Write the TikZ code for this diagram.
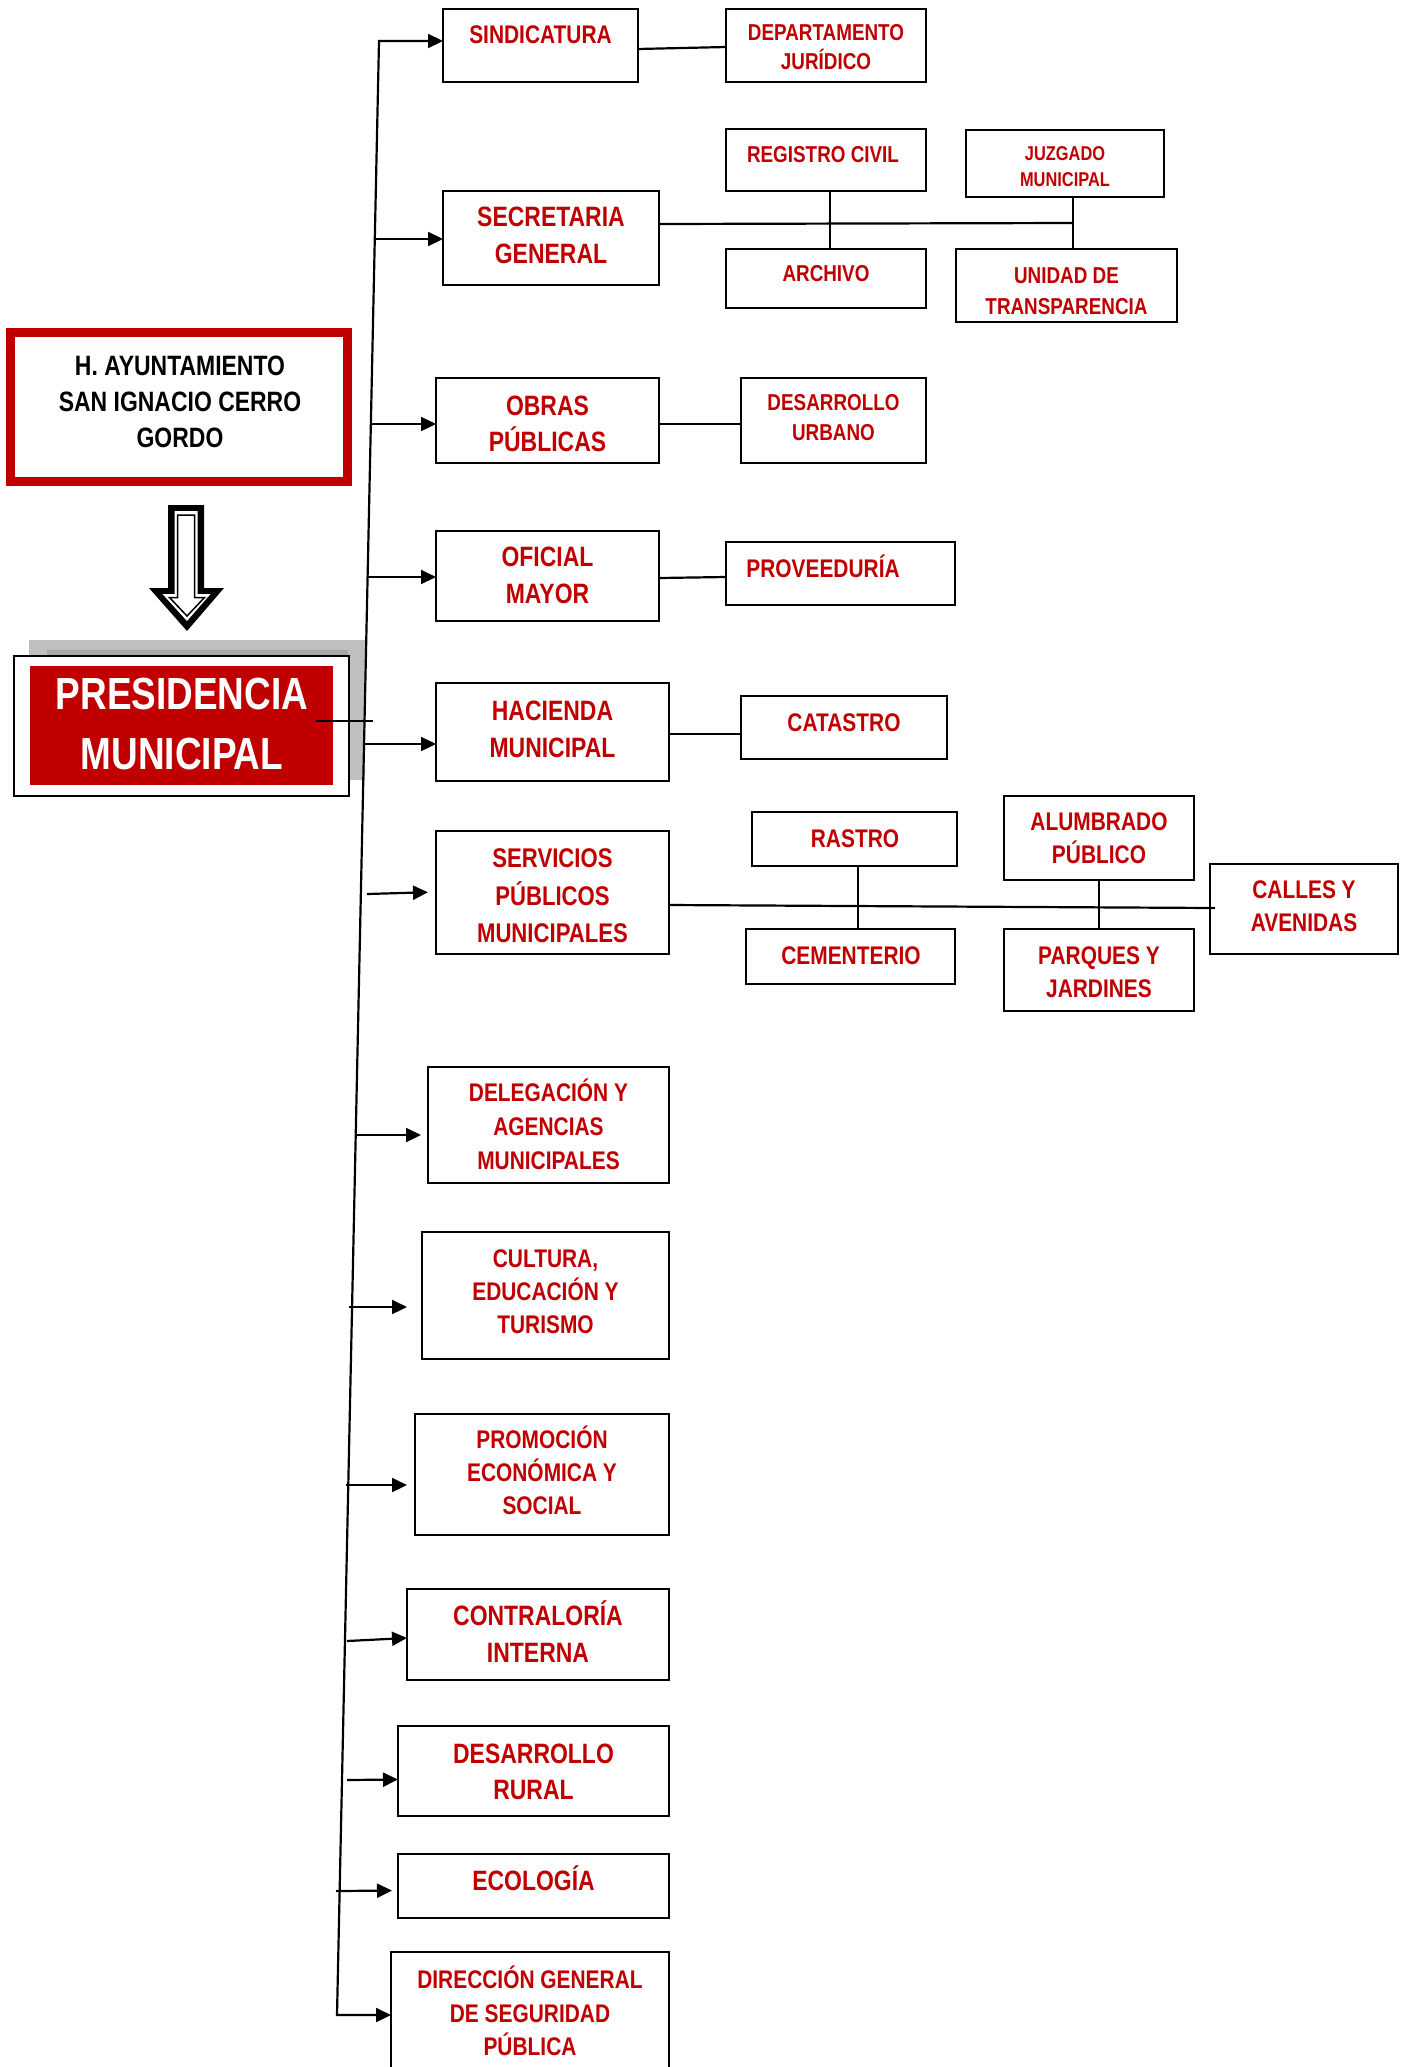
\documentclass[tikz,border=0pt]{standalone}
\usepackage{fontspec}
\newfontfamily\nar{Liberation Sans}[FakeStretch=0.82]
\usetikzlibrary{arrows.meta}
\definecolor{dred}{RGB}{192,0,0}
\definecolor{shg}{RGB}{191,191,191}
\definecolor{shgd}{RGB}{168,168,168}
\newcommand{\ubox}[5]{\node[box, minimum width={(#4)-(#2)}, minimum height={(#5)-(#3)}] (#1) at ({((#2)+(#4))/2},{((#3)+(#5))/2}) {};}
\newcommand{\tl}[5]{\node[#1] (#2) at (#3,#4) {#5};}
\tikzset{
  box/.style={draw=black, line width=2.6pt, fill=white, inner sep=0pt, outer sep=0pt},
  ln/.style={draw=black, line width=2.2pt},
  arr/.style={ln, -{Triangle[length=15pt,width=14pt]}},
  tbase/.style={inner sep=0pt, anchor=base, text=dred},
  tA/.style={tbase, font=\nar\bfseries\fontsize{28}{34}\selectfont},
  tS/.style={tbase, font=\nar\bfseries\fontsize{27}{33}\selectfont},
  tB/.style={tbase, font=\nar\bfseries\fontsize{25.5}{31}\selectfont},
  tC/.style={tbase, font=\nar\bfseries\fontsize{23}{28}\selectfont},
  tD/.style={tbase, font=\nar\bfseries\fontsize{20}{24}\selectfont},
  tK/.style={tbase, text=black, font=\nar\bfseries\fontsize{28}{34}\selectfont},
  tP/.style={tbase, text=white, font=\nar\bfseries\fontsize{45}{54}\selectfont},
}
\begin{document}
\begin{tikzpicture}[x=1pt,y=-1pt]
\path[use as bounding box] (0,0) rectangle (1406,2067);
\clip (0,0) rectangle (1406,2067);

% ---------- H. Ayuntamiento ----------
\node[draw=dred, line width=9pt, fill=white, inner sep=0pt, minimum width=337pt, minimum height=149pt] (ayto) at (179,407) {};
\draw[dred, line width=1.8pt] ([shift={(7pt,-7pt)}]ayto.north west) rectangle ([shift={(-7pt,7pt)}]ayto.south east);
\tl{tK}{ay1}{180}{375}{H. AYUNTAMIENTO}
\tl{tK}{ay2}{180}{411}{SAN IGNACIO CERRO}
\tl{tK}{ay3}{180}{447}{GORDO}

% ---------- big down arrow ----------
\fill[black] (168,505) -- (204,505) -- (204,588) -- (224,588) -- (187,631) -- (149,588) -- (168,588) -- cycle;
\fill[white] (174.5,511) -- (197.5,511) -- (197.5,594) -- (210.5,594) -- (187,621) -- (162.5,594) -- (174.5,594) -- cycle;
\draw[black, line width=1.5pt, fill=white] (177.5,515) -- (194.5,515) -- (194.5,597.5) -- (204.5,597.5) -- (187,616) -- (169.5,597.5) -- (177.5,597.5) -- cycle;

% ---------- Presidencia ----------
\fill[shg] (29,640) rectangle (365,780);
\fill[shgd] (47,650) rectangle (348,656);
\ubox{pres}{14}{656}{349}{796}
\node[fill=dred, inner sep=0pt, minimum width=303pt, minimum height=119pt] (presr) at (181.5,725.5) {};
\tl{tP}{pr1}{182}{709}{PRESIDENCIA}
\tl{tP}{pr2}{182}{769}{MUNICIPAL}

% ---------- boxes ----------
\ubox{sind}{443}{9}{638}{82}
\ubox{dept}{726}{9}{926}{82}
\ubox{secr}{443}{191}{659}{285}
\ubox{reg}{726}{129}{926}{191}
\ubox{arch}{726}{249}{926}{308}
\ubox{juz}{966}{130}{1164}{197}
\ubox{unid}{956}{249}{1177}{322}
\ubox{obras}{436}{378}{659}{463}
\ubox{durb}{741}{378}{926}{463}
\ubox{ofic}{436}{531}{659}{621}
\ubox{prov}{726}{542}{955}{605}
\ubox{hac}{436}{683}{669}{781}
\ubox{cat}{741}{696}{947}{759}
\ubox{serv}{436}{831}{669}{954}
\ubox{rastro}{752}{812}{957}{866}
\ubox{cem}{746}{929}{955}{984}
\ubox{alum}{1004}{796}{1194}{880}
\ubox{parq}{1004}{929}{1194}{1011}
\ubox{calles}{1210}{864}{1398}{954}
\ubox{deleg}{428}{1067}{669}{1183}
\ubox{cult}{422}{1232}{669}{1359}
\ubox{prom}{415}{1414}{669}{1535}
\ubox{contr}{407}{1589}{669}{1680}
\ubox{rural}{398}{1726}{669}{1816}
\ubox{ecol}{398}{1854}{669}{1918}
\ubox{dir}{391}{1952}{669}{2082}

% ---------- texts ----------
\tl{tB}{t1}{540.5}{43}{SINDICATURA}
\tl{tC}{t2}{826}{40}{DEPARTAMENTO}
\tl{tC}{t3}{826}{69}{JURÍDICO}
\tl{tA}{t4}{551}{226}{SECRETARIA}
\tl{tA}{t5}{551}{263}{GENERAL}
\tl{tC}{t6}{823}{162}{REGISTRO CIVIL}
\tl{tC}{t7}{826}{281}{ARCHIVO}
\tl{tD}{t8}{1065}{160}{JUZGADO}
\tl{tD}{t9}{1065}{186}{MUNICIPAL}
\tl{tC}{t10}{1066.5}{283}{UNIDAD DE}
\tl{tC}{t11}{1066.5}{314}{TRANSPARENCIA}
\tl{tA}{t12}{547.5}{415}{OBRAS}
\tl{tA}{t13}{547.5}{451}{PÚBLICAS}
\tl{tC}{t14}{833.5}{410}{DESARROLLO}
\tl{tC}{t15}{833.5}{440}{URBANO}
\tl{tA}{t16}{547.5}{566}{OFICIAL}
\tl{tA}{t17}{547.5}{603}{MAYOR}
\tl{tB}{t18}{823}{577}{PROVEEDURÍA}
\tl{tA}{t19}{552.5}{720}{HACIENDA}
\tl{tA}{t20}{552.5}{757}{MUNICIPAL}
\tl{tB}{t21}{844}{731}{CATASTRO}
\tl{tS}{t22}{552.5}{867}{SERVICIOS}
\tl{tS}{t23}{552.5}{905}{PÚBLICOS}
\tl{tS}{t24}{552.5}{942}{MUNICIPALES}
\tl{tB}{t25}{855}{847}{RASTRO}
\tl{tB}{t26}{851}{964}{CEMENTERIO}
\tl{tB}{t27}{1099}{830}{ALUMBRADO}
\tl{tB}{t28}{1099}{863}{PÚBLICO}
\tl{tB}{t29}{1099}{964}{PARQUES Y}
\tl{tB}{t30}{1099}{997}{JARDINES}
\tl{tB}{t31}{1304}{898}{CALLES Y}
\tl{tB}{t32}{1304}{931}{AVENIDAS}
\tl{tB}{t33}{548.5}{1101}{DELEGACIÓN Y}
\tl{tB}{t34}{548.5}{1135}{AGENCIAS}
\tl{tB}{t35}{548.5}{1169}{MUNICIPALES}
\tl{tB}{t36}{545.5}{1267}{CULTURA,}
\tl{tB}{t37}{545.5}{1300}{EDUCACIÓN Y}
\tl{tB}{t38}{545.5}{1333}{TURISMO}
\tl{tB}{t39}{542}{1448}{PROMOCIÓN}
\tl{tB}{t40}{542}{1481}{ECONÓMICA Y}
\tl{tB}{t41}{542}{1514}{SOCIAL}
\tl{tA}{t42}{538}{1625}{CONTRALORÍA}
\tl{tA}{t43}{538}{1662}{INTERNA}
\tl{tA}{t44}{533.5}{1763}{DESARROLLO}
\tl{tA}{t45}{533.5}{1799}{RURAL}
\tl{tA}{t46}{533.5}{1890}{ECOLOGÍA}
\tl{tB}{t47}{530}{1988}{DIRECCIÓN GENERAL}
\tl{tB}{t48}{530}{2022}{DE SEGURIDAD}
\tl{tB}{t49}{530}{2055}{PÚBLICA}

% ---------- trunk ----------
\coordinate (tt) at (379,41);
\coordinate (tb) at (337,2015);
\draw[ln, line join=miter, {Triangle[length=15pt,width=14pt]}-{Triangle[length=15pt,width=14pt]}] ([yshift=4.5pt]sind.west) -- (tt) -- (tb) -- ([yshift=2pt]dir.west);

% presidencia connector
\coordinate (pj) at (373,721);
\draw[ln] ([shift={(-17pt,4.5pt)}]presr.east) -- (pj);

% arrow start points
\coordinate (aSecr) at (374.8,239);
\coordinate (aObras) at (370.8,424);
\coordinate (aOfic) at (367.6,577);
\coordinate (aHac) at (364,744);
\coordinate (aServ) at (367,894);
\coordinate (aDeleg) at (356,1135);
\coordinate (aCult) at (349,1307);
\coordinate (aProm) at (346,1485);
\coordinate (aContr) at (347,1641);
\coordinate (aRural) at (347,1780);
\coordinate (aEcol) at (336,1891);

\draw[arr] (aSecr) -- ([yshift=-1pt]secr.west);
\draw[arr] (aObras) -- ([yshift=-3.5pt]obras.west);
\draw[arr] (aOfic) -- ([yshift=-1pt]ofic.west);
\draw[arr] (aHac) -- ([yshift=-12pt]hac.west);
\draw[arr, shorten >=8pt] (aServ) -- ([yshift=0.5pt]serv.west);
\draw[arr, shorten >=7pt] (aDeleg) -- ([yshift=-10pt]deleg.west);
\draw[arr, shorten >=15pt] (aCult) -- ([yshift=-11.5pt]cult.west);
\draw[arr, shorten >=8pt] (aProm) -- ([yshift=-10.5pt]prom.west);
\draw[arr] (aContr) -- ([yshift=-3.5pt]contr.west);
\draw[arr] (aRural) -- ([yshift=-8.5pt]rural.west);
\draw[arr, shorten >=6pt] (aEcol) -- ([yshift=-4.5pt]ecol.west);

% ---------- sub connectors ----------
\draw[ln] ([yshift=-3.5pt]sind.east) -- ([yshift=-1.5pt]dept.west);
\coordinate (jx) at (1073,223);
\draw[ln] ([yshift=14pt]secr.east) -- (jx);
\draw[ln] ([xshift=4pt]reg.south) -- ([xshift=4pt]arch.north);
\draw[ln] ([xshift=8pt]juz.south) -- ([xshift=6.5pt]unid.north);
\draw[ln] ([yshift=-3.5pt]obras.east) -- ([yshift=-3.5pt]durb.west);
\draw[ln] ([yshift=-2pt]ofic.east) -- ([yshift=-3.5pt]prov.west);
\draw[ln] ([yshift=-2pt]hac.east) -- ([yshift=-6.5pt]cat.west);
\draw[ln] ([yshift=-12.5pt]serv.east) -- ([shift={(5pt,1pt)}]calles.west);
\draw[ln] ([xshift=3.5pt]rastro.south) -- ([xshift=7.5pt]cem.north);
\draw[ln] (alum.south) -- (parq.north);
\end{tikzpicture}
\end{document}
